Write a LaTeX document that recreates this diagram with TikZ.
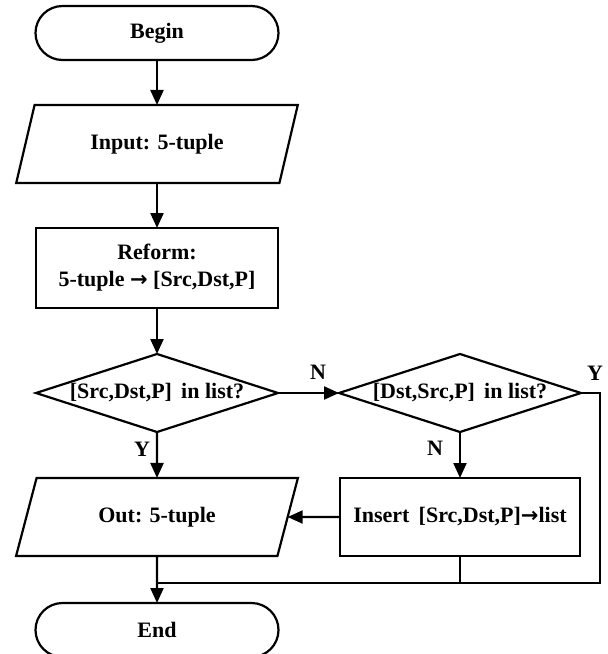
\documentclass[tikz,border=0pt]{standalone}
\usepackage{fontspec}
\setmainfont{Liberation Serif}
\newfontfamily\arrowfont{DejaVu Sans}
\usetikzlibrary{shapes.geometric,arrows.meta}

% heavy arrow glyph used inside the box texts
\newcommand{\heavyarrow}{{\arrowfont\bfseries\fontsize{21}{26}\selectfont →}}

\tikzset{
  base/.style={draw, line width=2.2pt, inner sep=0pt, outer sep=0pt,
    font=\fontsize{22}{27}\selectfont\bfseries, align=center},
  terminal/.style={base, rectangle, rounded corners=27pt,
    minimum width=243pt, minimum height=54pt},
  io/.style={base, trapezium, trapezium left angle=63.4, trapezium right angle=116.6,
    trapezium stretches=true, minimum width=282pt, minimum height=78pt},
  process/.style={base, rectangle, minimum width=242pt, minimum height=80pt},
  decision/.style={base, diamond, minimum width=242pt, minimum height=78pt},
  caption/.style={font=\fontsize{22}{27}\selectfont\bfseries, inner sep=0pt},
  flow/.style={line width=2.2pt, -{Triangle[length=15pt,width=13pt]}},
  line/.style={line width=2.2pt}
}

\begin{document}
\begin{tikzpicture}[x=1pt, y=-1pt]
  \useasboundingbox (0,0) rectangle (608,654);

  % main column
  \node[terminal] (begin) at (157,33)  {Begin};
  \node[io]       (input) at (157,144) {Input: 5-tuple};
  \node[process]  (reform) at (157,268) {Reform:\\5-tuple \heavyarrow\ [Src,Dst,P]};
  \node[decision] (d1) at (157,393) {};
  \node[caption]  (d1t) at (157,393) {[Src,Dst,P]\, in list?};
  \node[io]       (out) at (157,517) {Out: 5-tuple};
  \node[terminal] (end) at (157,630) {End};

  % right column
  \node[decision] (d2) at (460,393) {};
  \node[caption]  (d2t) at (460,393) {[Dst,Src,P]\, in list?};
  \node[process, minimum width=240pt, minimum height=78pt] (ins) at (460,517)
    {Insert\, [Src,Dst,P]\heavyarrow list};

  % merge points on the bottom line
  \coordinate (m)  at (157,583);
  \coordinate (rc) at (600,583);

  % connectors
  \draw[flow] (begin) -- (input);
  \draw[flow] (input) -- (reform);
  \draw[flow] (reform) -- (d1);
  \draw[flow] (d1.east) -- (d2.west);
  \draw[flow] (d1.south) -- (out.north);
  \draw[flow] (d2.south) -- (ins.north);
  \draw[flow] (ins.west) -- (out.east);
  \draw[flow] (out.south) -- (end.north);
  \draw[line] (ins.south) -- (ins.south |- m);
  \draw[line] (d2.east) -| (rc) -- (m);

  % branch labels
  \node[caption] (n1) at (318,372) {N};
  \node[caption] (y1) at (142,449) {Y};
  \node[caption] (n2) at (435,448) {N};
  \node[caption] (y2) at (595,373) {Y};
\end{tikzpicture}
\end{document}
